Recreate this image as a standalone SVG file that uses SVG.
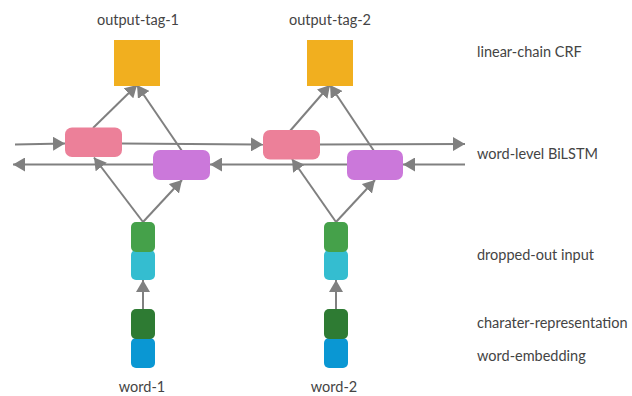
<svg xmlns="http://www.w3.org/2000/svg" width="632" height="396" viewBox="0 0 632 396">
<style>
  text { font-family: Lato, "Open Sans", "Liberation Sans", sans-serif; font-size: 14.5px; fill: #444444; }
  .c { text-anchor: middle; }
  .edge { stroke: #808080; stroke-width: 2; fill: none; }
  .crf { fill: #F1AF1F; }
  .fw { fill: #EC8099; }
  .bw { fill: #CB78DA; }
  .drop { fill: #45A14A; }
  .inp { fill: #34BDD0; }
  .chr { fill: #2E7B33; }
  .emb { fill: #0A97D3; }
</style>
<defs>
  <marker id="ah" markerUnits="userSpaceOnUse" markerWidth="13" markerHeight="14" refX="12" refY="7" orient="auto">
    <path d="M0,0 L12,7 L0,14 z" fill="#808080"/>
  </marker>
</defs>

<g id="connectors">
  <!-- forward LSTM line -->
  <line class="edge" x1="15" y1="144.5" x2="65" y2="143.5" marker-end="url(#ah)"/>
  <line class="edge" x1="122" y1="143.5" x2="263" y2="144.5" marker-end="url(#ah)"/>
  <line class="edge" x1="320" y1="144.5" x2="465" y2="144" marker-end="url(#ah)"/>
  <!-- backward LSTM line -->
  <line class="edge" x1="465" y1="164.5" x2="403" y2="164.5" marker-end="url(#ah)"/>
  <line class="edge" x1="347" y1="164.5" x2="210" y2="164.5" marker-end="url(#ah)"/>
  <line class="edge" x1="153" y1="164.5" x2="13" y2="164.5" marker-end="url(#ah)"/>
  <!-- column 1 -->
  <line class="edge" x1="143" y1="222" x2="94" y2="157.5" marker-end="url(#ah)"/>
  <line class="edge" x1="143" y1="222" x2="182" y2="180" marker-end="url(#ah)"/>
  <line class="edge" x1="93" y1="128" x2="137" y2="85" marker-end="url(#ah)"/>
  <line class="edge" x1="182" y1="151" x2="137" y2="85" marker-end="url(#ah)"/>
  <line class="edge" x1="143" y1="309" x2="143" y2="280" marker-end="url(#ah)"/>
  <!-- column 2 -->
  <line class="edge" x1="336" y1="222" x2="292" y2="159" marker-end="url(#ah)"/>
  <line class="edge" x1="336" y1="222" x2="375" y2="180" marker-end="url(#ah)"/>
  <line class="edge" x1="290" y1="131" x2="330" y2="85" marker-end="url(#ah)"/>
  <line class="edge" x1="374" y1="151" x2="330" y2="85" marker-end="url(#ah)"/>
  <line class="edge" x1="336" y1="309" x2="336" y2="280" marker-end="url(#ah)"/>
</g>

<g id="output-tag-1">
  <rect class="crf" x="114" y="40" width="46" height="46"/>
  <text class="c" x="138" y="25">output-tag-1</text>
</g>
<g id="output-tag-2">
  <rect class="crf" x="307" y="40" width="46" height="46"/>
  <text class="c" x="330" y="25">output-tag-2</text>
</g>

<g id="fw-lstm-1"><rect class="fw" x="65" y="127.5" width="57" height="29.5" rx="7"/></g>
<g id="bw-lstm-1"><rect class="bw" x="153" y="150" width="57" height="30" rx="7"/></g>
<g id="fw-lstm-2"><rect class="fw" x="263" y="130" width="57" height="29.5" rx="7"/></g>
<g id="bw-lstm-2"><rect class="bw" x="347" y="150" width="56" height="30" rx="7"/></g>

<g id="input-1">
  <rect class="inp" x="131" y="250" width="24" height="30" rx="5"/>
  <rect class="drop" x="131" y="222" width="24" height="30" rx="5"/>
</g>
<g id="embedding-1">
  <rect class="emb" x="131" y="338" width="24" height="30" rx="5"/>
  <rect class="chr" x="131" y="309" width="24" height="30" rx="5"/>
  <text class="c" x="142" y="392">word-1</text>
</g>
<g id="input-2">
  <rect class="inp" x="324" y="250" width="24" height="30" rx="5"/>
  <rect class="drop" x="324" y="222" width="24" height="30" rx="5"/>
</g>
<g id="embedding-2">
  <rect class="emb" x="324" y="338" width="24" height="30" rx="5"/>
  <rect class="chr" x="324" y="309" width="24" height="30" rx="5"/>
  <text class="c" x="334" y="392">word-2</text>
</g>

<g id="legend">
  <text x="477" y="57">linear-chain CRF</text>
  <text x="477" y="159">word-level BiLSTM</text>
  <text x="477" y="260">dropped-out input</text>
  <text x="477" y="327.5">charater-representation</text>
  <text x="477" y="360.5">word-embedding</text>
</g>
</svg>
